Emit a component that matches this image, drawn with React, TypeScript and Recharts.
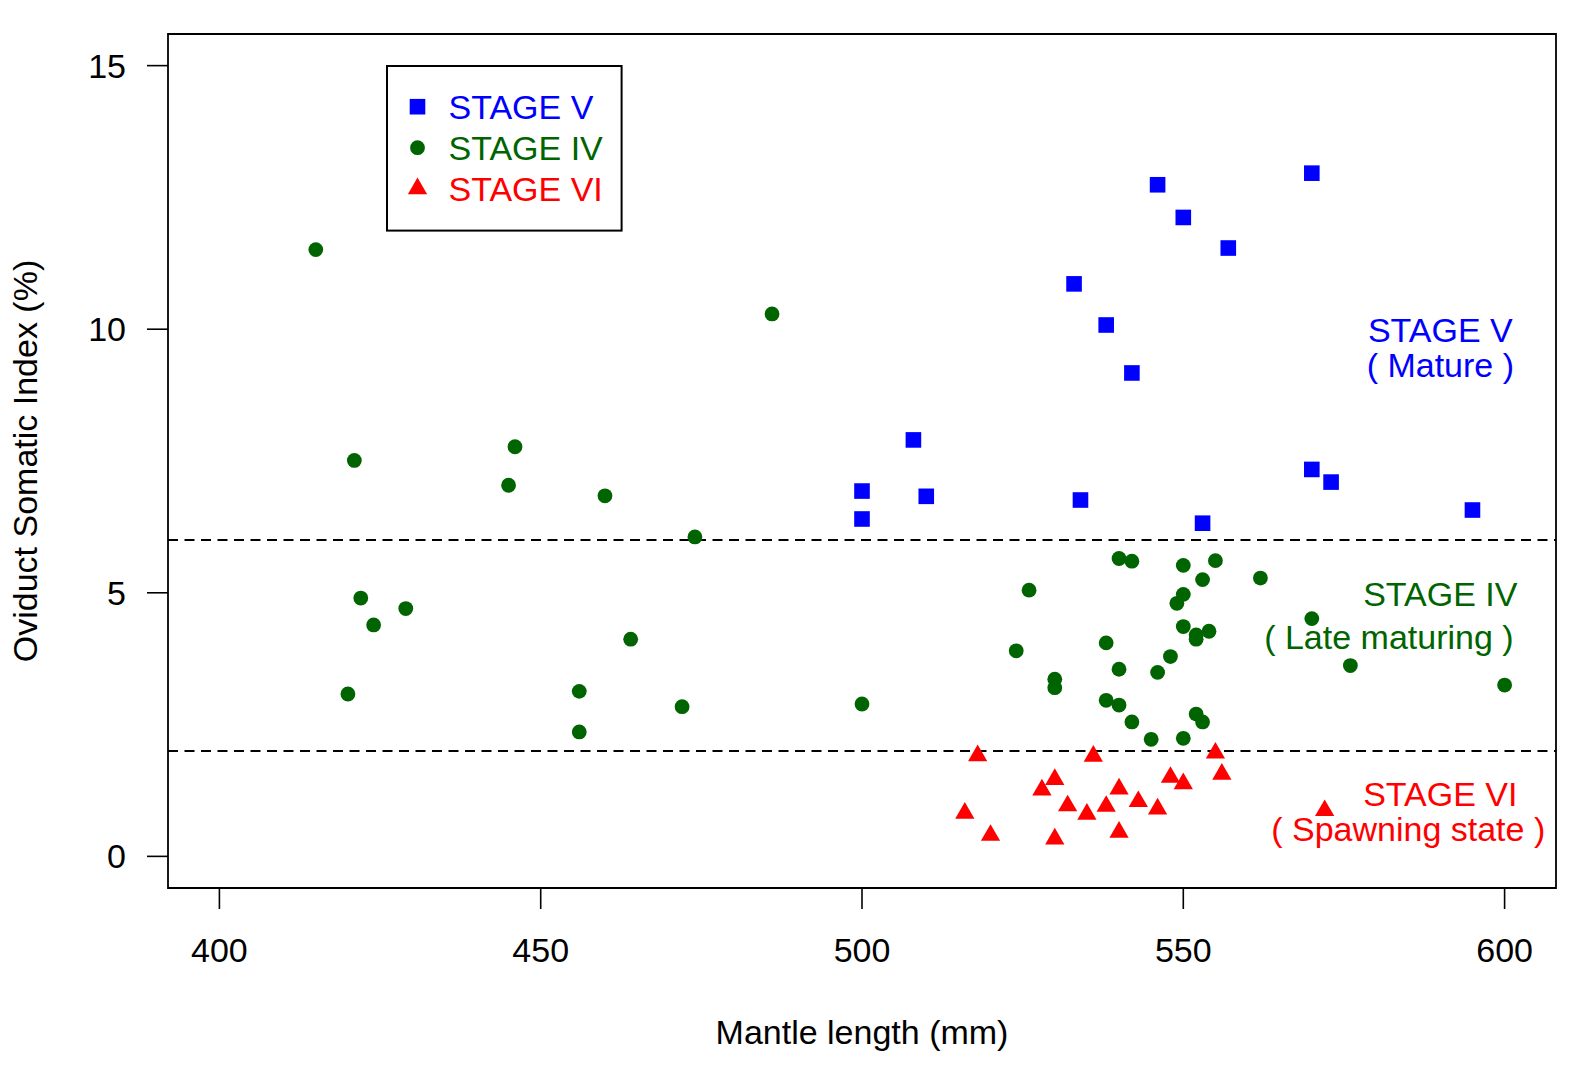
import React from 'react';
import {
  ScatterChart,
  Scatter,
  XAxis,
  YAxis,
  ReferenceLine,
  ReferenceArea,
  Legend,
} from 'recharts';

// ---------- data ----------
const stageVLength = [546, 550, 557, 533, 538, 542, 508, 500, 500, 510, 534, 553, 570, 570, 573, 595];
const stageVOsi = [12.74, 12.12, 11.54, 10.86, 10.08, 9.17, 7.9, 6.93, 6.4, 6.83, 6.76, 6.32, 12.96, 7.34, 7.1, 6.57];

const stageIVLength = [
  415, 421, 446, 445, 460, 474, 422, 429, 424, 464, 420, 456, 472, 456, 486, 500,
  540, 542, 550, 555, 553, 526, 550, 549, 550, 552, 552, 554, 538, 524, 548, 540,
  546, 530, 530, 538, 540, 552, 553, 542, 545, 550, 562, 570, 576, 600,
];
const stageIVOsi = [
  11.51, 7.51, 7.77, 7.04, 6.84, 6.06, 4.9, 4.7, 4.39, 4.12, 3.08, 3.13, 2.84, 2.36, 10.29, 2.89,
  5.65, 5.6, 5.52, 5.61, 5.25, 5.05, 4.97, 4.8, 4.36, 4.2, 4.12, 4.27, 4.05, 3.9, 3.79, 3.55,
  3.49, 3.36, 3.2, 2.96, 2.87, 2.7, 2.55, 2.55, 2.22, 2.24, 5.28, 4.51, 3.62, 3.25,
];

const stageVILength = [518, 536, 555, 530, 528, 548, 550, 556, 540, 532, 538, 543, 535, 546, 516, 520, 530, 540, 572];
const stageVIOsi = [1.91, 1.9, 1.96, 1.46, 1.26, 1.5, 1.38, 1.56, 1.28, 0.96, 0.95, 1.04, 0.8, 0.9, 0.82, 0.4, 0.33, 0.46, 0.87];

const xTicks = [400, 450, 500, 550, 600];
const yTicks = [0, 5, 10, 15];
const thresholds = [6, 2];

const legendLabels = ['STAGE V', 'STAGE IV', 'STAGE VI'];
const noteLines = ['STAGE V', '( Mature )', 'STAGE IV', '( Late maturing )', 'STAGE VI', '( Spawning state )'];
const noteX = [590, 590, 590, 582, 590, 585];
const noteY = [9.99, 9.32, 4.97, 4.16, 1.19, 0.52];
const noteStage = [0, 0, 1, 1, 2, 2];

// ---------- styles ----------
const FONT = "'Liberation Sans', Arial, Helvetica, sans-serif";
const FS = 34;
const BLUE = '#0000FF';
const GREEN = '#006400';
const RED = '#FF0000';
const stageColors = [BLUE, GREEN, RED];

const toPoints = (xs: number[], ys: number[]) => xs.map((x, i) => ({ x, y: ys[i] }));
const stageV = toPoints(stageVLength, stageVOsi);
const stageIV = toPoints(stageIVLength, stageIVOsi);
const stageVI = toPoints(stageVILength, stageVIOsi);
const notes = noteLines.map((t, i) => ({ x: noteX[i], y: noteY[i], text: t, stage: noteStage[i] }));

const SQ = 7.8;
const CR = 7.4;
const TR = 7.15;

const squareEl = (cx: number, cy: number) => (
  <rect x={cx - SQ} y={cy - SQ} width={SQ * 2} height={SQ * 2} fill={BLUE} />
);
const circleEl = (cx: number, cy: number) => <circle cx={cx} cy={cy} r={CR} fill={GREEN} />;
const triangleEl = (cx: number, cy: number) => {
  const top = 1.5551 * TR;
  const half = 1.3468 * TR;
  const bot = 0.7776 * TR;
  const pts = `${cx},${cy - top} ${cx + half},${cy + bot} ${cx - half},${cy + bot}`;
  return <polygon points={pts} fill={RED} />;
};

const SquareShape = (p: any) => (p.cx == null ? <g /> : squareEl(p.cx, p.cy));
const CircleShape = (p: any) => (p.cx == null ? <g /> : circleEl(p.cx, p.cy));
const TriangleShape = (p: any) => (p.cx == null ? <g /> : triangleEl(p.cx, p.cy));
const NoteShape = (p: any) => {
  if (p.cx == null) return <g />;
  const d = p.payload || {};
  return (
    <text
      x={p.cx}
      y={p.cy}
      dy="0.355em"
      textAnchor="middle"
      fontFamily={FONT}
      fontSize={FS}
      fill={stageColors[d.stage]}
    >
      {d.text}
    </text>
  );
};

const LegendBox = () => {
  const rows = [41.7, 82.7, 123.7];
  const makers = [squareEl, circleEl, triangleEl];
  return (
    <svg width={238} height={168} style={{ display: 'block' }}>
      <rect x={1} y={1} width={234.6} height={164.6} fill="#fff" stroke="#000" strokeWidth={2} />
      {legendLabels.map((lab, i) => (
        <g key={lab}>
          {makers[i](31.5, rows[i])}
          <text
            x={62.5}
            y={rows[i]}
            dy="0.355em"
            fontFamily={FONT}
            fontSize={FS}
            fill={stageColors[i]}
          >
            {lab}
          </text>
        </g>
      ))}
    </svg>
  );
};

const tickStyle = { fill: '#000', fontSize: FS, fontFamily: FONT };
const tickLineStyle = { stroke: '#000', strokeWidth: 1.6 };

export default function App() {
  return (
    <div style={{ position: 'absolute', left: 0, top: 0, background: '#fff' }}>
      <ScatterChart
        width={1575}
        height={1065}
        margin={{ top: 34, right: 19, bottom: 117, left: 88 }}
      >
        <XAxis
          type="number"
          dataKey="x"
          domain={[392, 608]}
          ticks={xTicks}
          allowDataOverflow
          axisLine={false}
          tickLine={tickLineStyle}
          tickSize={21}
          tickMargin={29}
          tick={tickStyle}
          height={60}
          label={{
            value: 'Mantle length (mm)',
            position: 'bottom',
            offset: 72,
            fill: '#000',
            fontSize: FS,
            fontFamily: FONT,
          }}
        />
        <YAxis
          type="number"
          dataKey="y"
          domain={[-0.6, 15.6]}
          ticks={yTicks}
          allowDataOverflow
          axisLine={false}
          tickLine={tickLineStyle}
          tickSize={21}
          tickMargin={21}
          tick={tickStyle}
          width={80}
          label={{
            value: 'Oviduct Somatic Index (%)',
            angle: -90,
            position: 'insideLeft',
            offset: -63,
            fill: '#000',
            fontSize: FS,
            fontFamily: FONT,
            style: { textAnchor: 'middle' },
          }}
        />
        <ReferenceArea
          x1={392}
          x2={608}
          y1={-0.6}
          y2={15.6}
          fill="none"
          fillOpacity={0}
          stroke="#000"
          strokeWidth={1.8}
          ifOverflow="visible"
        />
        {thresholds.map((t) => (
          <ReferenceLine key={t} y={t} stroke="#000" strokeWidth={2} strokeDasharray="10 6.5" />
        ))}
        <Legend
          content={<LegendBox />}
          layout="vertical"
          align="center"
          verticalAlign="middle"
          wrapperStyle={{ left: 386, top: 65, width: 238, height: 168 }}
        />
        <Scatter name="STAGE IV" data={stageIV} shape={CircleShape} isAnimationActive={false} />
        <Scatter name="STAGE V" data={stageV} shape={SquareShape} isAnimationActive={false} />
        <Scatter name="STAGE VI" data={stageVI} shape={TriangleShape} isAnimationActive={false} />
        <Scatter name="notes" data={notes} shape={NoteShape} isAnimationActive={false} legendType="none" />
      </ScatterChart>
    </div>
  );
}
